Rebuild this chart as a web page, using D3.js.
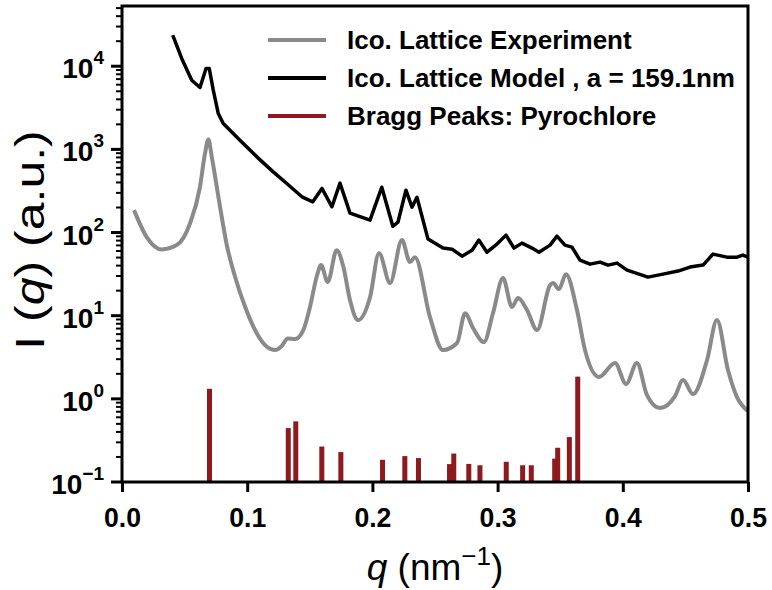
<!DOCTYPE html>
<html>
<head>
<meta charset="utf-8">
<script src="https://cdn.jsdelivr.net/npm/d3@7"></script>
<style>
  body { margin: 0; background: #fff; }
  svg { font-family: "Liberation Sans", Arial, sans-serif; }
</style>
</head>
<body>
<svg width="772" height="590"></svg>
<script>
// experiment (gray)
var expQ = [0.0096, 0.0196, 0.0317, 0.0437, 0.0543, 0.0623, 0.0663, 0.069, 0.0717, 0.0783,
            0.0837, 0.0903, 0.0983, 0.1077, 0.1157, 0.1222, 0.1276, 0.1324, 0.1382, 0.1448,
            0.1502, 0.1555, 0.159, 0.1643, 0.1715, 0.1768, 0.1821, 0.1885, 0.1981, 0.2053,
            0.2141, 0.2236, 0.23, 0.234, 0.246, 0.2564, 0.2676, 0.274, 0.2804, 0.2891,
            0.2963, 0.3043, 0.3115, 0.3163, 0.3235, 0.3315, 0.3419, 0.3443, 0.349, 0.3546,
            0.3634, 0.3698, 0.381, 0.3938, 0.4026, 0.4113, 0.4193, 0.4297, 0.4417, 0.4481,
            0.4561, 0.4673, 0.4752, 0.484, 0.4912, 0.5];
var expI = [186, 88.8, 62.7, 70.6, 128.6, 354, 893, 1315, 813, 204,
            70.6, 29.4, 12.8, 6.12, 4.23, 3.86, 4.32, 5.33, 5.24, 6.71,
            12.8, 29.4, 40.6, 25.5, 61.4, 38.7, 15.4, 8.85, 16.7, 56.5,
            24.7, 81.1, 44.1, 50.6, 9.62, 3.86, 4.69, 10.7, 7.1, 4.82,
            10.7, 28.3, 12.7, 16.3, 11.7, 6.71, 23.3, 24.7, 20.9, 31.6,
            11.7, 3.86, 1.83, 2.69, 1.51, 2.69, 1.11, 0.775, 1.08, 1.68,
            1.14, 2.93, 8.85, 2.22, 1.05, 0.713];

// model (black)
var modelQ = [0.0405, 0.0477, 0.0557, 0.0623, 0.0671, 0.0697, 0.0729, 0.0769, 0.0809, 0.0942,
              0.1077, 0.1208, 0.1316, 0.1437, 0.1524, 0.1597, 0.1677, 0.1741, 0.1821, 0.1981,
              0.2075, 0.2163, 0.2204, 0.2268, 0.2316, 0.2356, 0.2444, 0.2564, 0.2636, 0.2716,
              0.2796, 0.2851, 0.2915, 0.2995, 0.3067, 0.3131, 0.3195, 0.3275, 0.3331, 0.3419,
              0.3474, 0.3538, 0.3594, 0.3658, 0.3738, 0.3818, 0.3882, 0.3954, 0.4034, 0.4201,
              0.4321, 0.4441, 0.4537, 0.4641, 0.472, 0.4832, 0.4912, 0.496, 0.5];
var modelI = [23600, 12400, 6790, 5550, 9380, 9380, 5150, 2700, 2050, 1290,
              813, 537, 389, 269, 234, 339, 204, 393, 171, 141,
              351, 119, 133, 323, 202, 266, 83.4, 65.0, 63.1, 52.0,
              61.4, 81.1, 58.0, 72.6, 93.1, 65.0, 74.6, 65.0, 58.0, 70.6,
              90.6, 70.6, 66.8, 46.6, 41.7, 44.1, 40.6, 42.9, 35.3, 29.1,
              31.6, 34.4, 38.4, 40.6, 55.0, 50.6, 50.6, 53.5, 50.6];

// bragg peaks (pyrochlore)
var braggQ = [0.0699, 0.1328, 0.1388, 0.1596, 0.1748, 0.2081, 0.2259, 0.2368, 0.2616, 0.265,
              0.277, 0.2859, 0.3069, 0.32, 0.3269, 0.3456, 0.348, 0.3573, 0.364];
var braggI = [1.32, 0.445, 0.536, 0.267, 0.229, 0.185, 0.205, 0.194, 0.164, 0.22,
              0.165, 0.159, 0.175, 0.159, 0.159, 0.191, 0.258, 0.347, 1.85];

var xTicks = [0, 0.1, 0.2, 0.3, 0.4, 0.5];
var yExps = [-1, 0, 1, 2, 3, 4];

var legendLabels = ["Ico. Lattice Experiment", "Ico. Lattice Model , a = 159.1nm", "Bragg Peaks: Pyrochlore"];
var legendColors = ["#8a8a8a", "#000000", "#8c1a1e"];

var svg = d3.select("svg");

var padLeft = 122, padRight = 748, padTop = 6, padBottom = 482;

var xScale = d3.scaleLinear().domain([0, 0.5]).range([padLeft, padRight]);
var yScale = d3.scaleLog().domain([0.1, 5.3e4]).range([padBottom, padTop]);

// bragg bars
svg.append("g").selectAll("rect")
   .data(braggQ)
   .enter().append("rect")
     .attr("x", (d) => xScale(d) - 2.5)
     .attr("width", 5)
     .attr("y", (d, i) => yScale(braggI[i]))
     .attr("height", (d, i) => yScale(0.1) - yScale(braggI[i]))
     .attr("fill", "#8c1a1e");

// experiment curve
var expLine = d3.line()
    .x((d, i) => xScale(expQ[i]))
    .y((d) => yScale(d))
    .curve(d3.curveMonotoneX);

svg.append("path")
   .datum(expI)
   .attr("d", expLine)
   .attr("fill", "none")
   .attr("stroke", "#8a8a8a")
   .attr("stroke-width", 4);

// model curve
var modelLine = d3.line()
    .x((d, i) => xScale(modelQ[i]))
    .y((d) => yScale(d));

svg.append("path")
   .datum(modelI)
   .attr("d", modelLine)
   .attr("fill", "none")
   .attr("stroke", "#000")
   .attr("stroke-width", 3.5)
   .attr("stroke-linejoin", "round");

// x axis
var xAxis = svg.append("g")
   .attr("transform", "translate(0," + padBottom + ")")
   .call(d3.axisBottom(xScale)
       .tickValues(xTicks)
       .tickSize(10)
       .tickSizeOuter(0)
       .tickFormat(d3.format(".1f")));
xAxis.select(".domain").remove();
xAxis.selectAll("line").attr("stroke-width", 3);
xAxis.selectAll("text")
   .attr("font-size", 28)
   .attr("font-weight", "bold")
   .attr("font-family", "Liberation Sans, Arial, sans-serif")
   .attr("fill", "#000")
   .attr("dy", 0)
   .attr("y", 45)
   .attr("textLength", 37)
   .attr("lengthAdjust", "spacingAndGlyphs");

// y axis minor ticks
var minor = [];
yExps.forEach(function(e) {
  for (var k = 2; k <= 9; k++) {
    var v = k * Math.pow(10, e);
    if (v < 5.3e4) minor.push(v);
  }
});

svg.append("g").selectAll("line")
   .data(minor)
   .enter().append("line")
     .attr("x1", padLeft - 6)
     .attr("x2", padLeft)
     .attr("y1", (d) => yScale(d))
     .attr("y2", (d) => yScale(d))
     .attr("stroke", "#000")
     .attr("stroke-width", 2);

var yMajor = svg.append("g").selectAll("g")
   .data(yExps)
   .enter().append("g")
     .attr("transform", (d) => "translate(0," + yScale(Math.pow(10, d)) + ")");

yMajor.append("line")
   .attr("x1", padLeft - 11)
   .attr("x2", padLeft)
   .attr("stroke", "#000")
   .attr("stroke-width", 3);

var yLab = yMajor.append("text")
   .attr("x", 104)
   .attr("y", 12)
   .attr("text-anchor", "end")
   .attr("font-size", 28)
   .attr("font-weight", "bold");
yLab.append("tspan").text("10");
yLab.append("tspan")
   .attr("dy", -14)
   .attr("font-size", 19)
   .text((d) => d < 0 ? "\u2212" + (-d) : d);

// frame
svg.append("rect")
   .attr("x", padLeft)
   .attr("y", padTop)
   .attr("width", padRight - padLeft)
   .attr("height", padBottom - padTop)
   .attr("fill", "none")
   .attr("stroke", "#000")
   .attr("stroke-width", 3);

// axis titles
var xt = svg.append("text")
   .attr("x", (padLeft + padRight) / 2)
   .attr("y", 580)
   .attr("text-anchor", "middle")
   .attr("font-size", 37);
xt.append("tspan").attr("font-style", "italic").text("q");
xt.append("tspan").text(" (nm");
xt.append("tspan").attr("dy", -15).attr("font-size", 26).text("\u22121");
xt.append("tspan").attr("dy", 15).text(")");

// y title, a bit stretched along its length like the original
var yt = svg.append("text")
   .attr("transform", "translate(44," + 240 + ") rotate(-90) scale(1.25,1)")
   .attr("text-anchor", "middle")
   .attr("font-size", 40);
yt.append("tspan").text("I (");
yt.append("tspan").attr("font-style", "italic").text("q");
yt.append("tspan").text(") (a.u.)");

// legend
var legend = svg.append("g").selectAll("g")
   .data(legendLabels)
   .enter().append("g")
     .attr("transform", (d, i) => "translate(268," + (40 + i * 38) + ")");

legend.append("line")
   .attr("x1", 0)
   .attr("x2", 58)
   .attr("stroke", (d, i) => legendColors[i])
   .attr("stroke-width", 4);

legend.append("text")
   .attr("x", 79)
   .attr("y", 9)
   .attr("font-size", 26)
   .attr("font-weight", "bold")
   .text((d) => d);
</script>
</body>
</html>
